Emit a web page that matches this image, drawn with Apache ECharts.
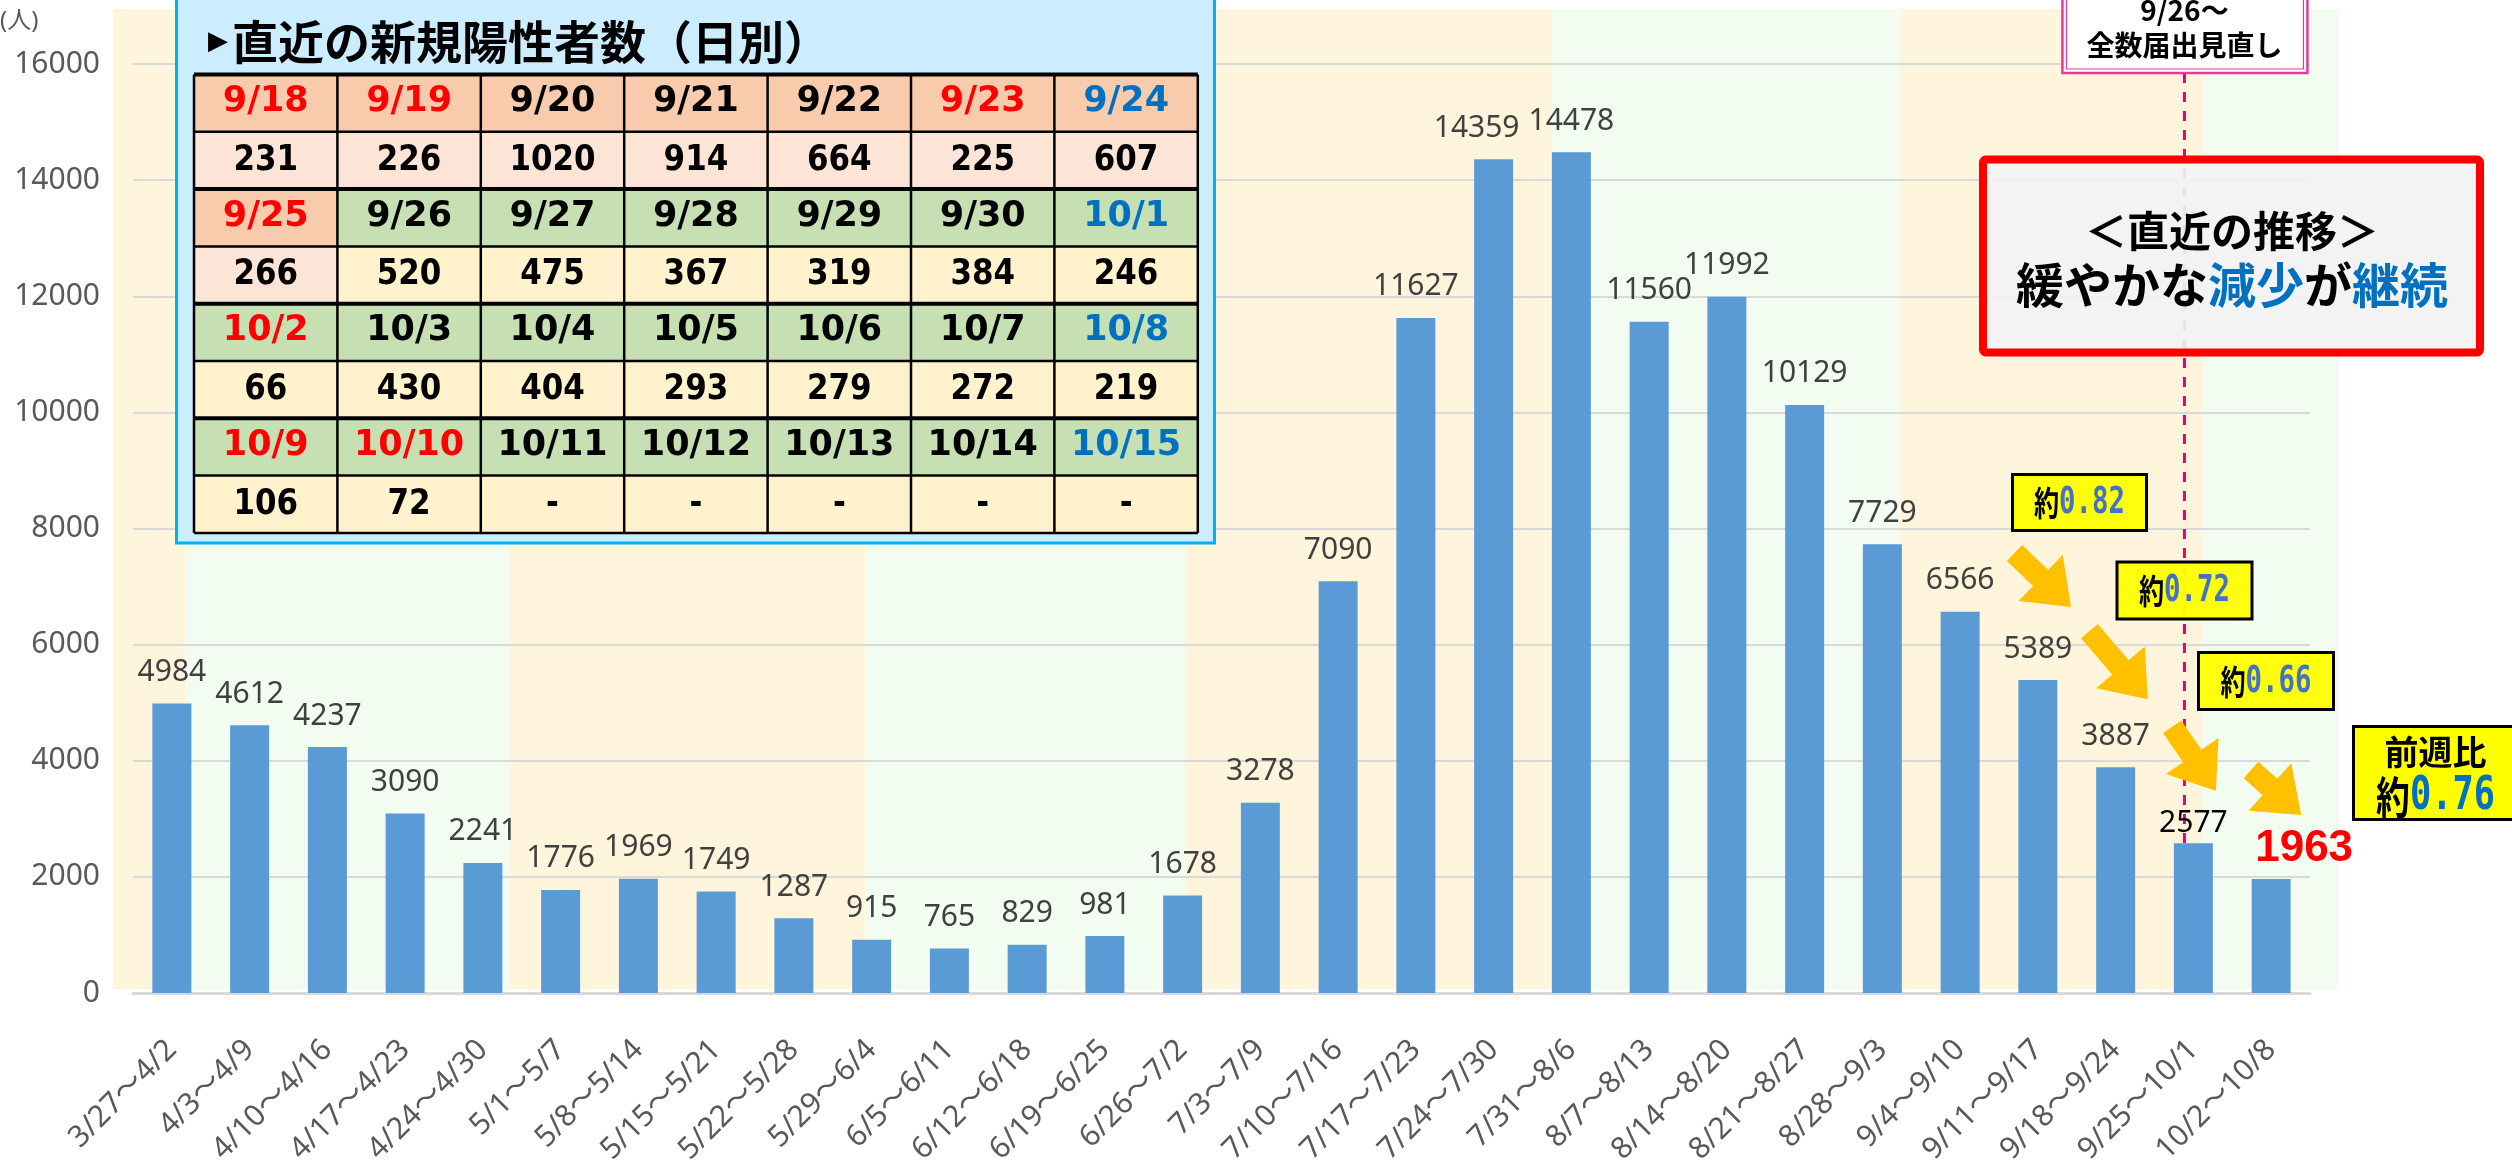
<!DOCTYPE html>
<html>
<head>
<meta charset="utf-8">
<script src="https://cdn.jsdelivr.net/npm/echarts@6/dist/echarts.min.js"></script>
<style>
html,body{margin:0;padding:0;background:#ffffff;}
#c{width:2512px;height:1171px;}
</style>
</head>
<body>
<div id="c"></div>
<script>
// ---------- DATA ----------
const weeks = ['3/27～4/2','4/3～4/9','4/10～4/16','4/17～4/23','4/24～4/30','5/1～5/7','5/8～5/14','5/15～5/21','5/22～5/28','5/29～6/4','6/5～6/11','6/12～6/18','6/19～6/25','6/26～7/2','7/3～7/9','7/10～7/16','7/17～7/23','7/24～7/30','7/31～8/6','8/7～8/13','8/14～8/20','8/21～8/27','8/28～9/3','9/4～9/10','9/11～9/17','9/18～9/24','9/25～10/1','10/2～10/8'];
const weeklyCases = [4984,4612,4237,3090,2241,1776,1969,1749,1287,915,765,829,981,1678,3278,7090,11627,14359,14478,11560,11992,10129,7729,6566,5389,3887,2577,1963];
const yTicks = {min:0, max:16000, interval:2000};

const dailyDates = ['9/18','9/19','9/20','9/21','9/22','9/23','9/24','9/25','9/26','9/27','9/28','9/29','9/30','10/1','10/2','10/3','10/4','10/5','10/6','10/7','10/8','10/9','10/10','10/11','10/12','10/13','10/14','10/15'];
const dailyCases = [231,226,1020,914,664,225,607,266,520,475,367,319,384,246,66,430,404,293,279,272,219,106,72,null,null,null,null,null];
const dailyDateColor = ['r','r','k','k','k','r','b','r','k','k','k','k','k','b','r','k','k','k','k','k','b','r','r','k','k','k','k','b'];
const reviewStartDate = '9/26';

const ratioLabels = ['0.82','0.72','0.66'];
const latestRatio = '0.76';

// month background bands: edges in category units
const monthBandEdges = [-0.76, 0.17, 4.35, 8.92, 13.03, 17.75, 22.23, 26.12, 27.87];
const reviewLinePos = 25.885;

// ---------- CHART ----------
const FONT = "'Noto Sans', 'Noto Sans CJK JP', sans-serif";
const JP = "'Noto Sans CJK JP', sans-serif";
const MONO = "'DejaVu Sans Mono', monospace";
const chart = echarts.init(document.getElementById('c'), null, {renderer:'canvas'});

const lastIdx = weeklyCases.length - 1;
const barData = weeklyCases.map((v, i) => {
  const d = {value: v};
  if (i === lastIdx) {
    d.label = {color:'#FF0000', fontSize:44, fontWeight:'bold', fontFamily:"'Liberation Sans', sans-serif", lineHeight:44, distance:8, offset:[33,0]};
  } else if (i === lastIdx - 1) {
    d.label = {color:'#000000', distance:5};
  } else if (v === 14359) {
    d.label = {offset:[-17,0]};
  }
  return d;
});

const option = {
  animation: false,
  backgroundColor: '#ffffff',
  grid: {left:133, top:64, width:2177, height:929, containLabel:false, outerBoundsMode:'none'},
  xAxis: {
    type:'category', data: weeks,
    axisTick:{show:false},
    axisLine:{show:true, lineStyle:{color:'#D9D9D9', width:3}},
    axisLabel:{rotate:45, interval:0, fontSize:30, color:'#595959', margin:52, fontFamily:FONT}
  },
  yAxis: {
    type:'value', min:yTicks.min, max:yTicks.max, interval:yTicks.interval,
    axisLine:{show:false}, axisTick:{show:false},
    splitLine:{show:true, lineStyle:{color:'#D9D9D9', width:2}},
    axisLabel:{fontSize:30, color:'#595959', margin:33, fontFamily:FONT, formatter: v => String(v)}
  },
  series: [{
    type:'bar', data: barData, barWidth:39, z:2,
    itemStyle:{color:'#5B9BD5'},
    label:{show:true, position:'top', distance:16, fontSize:30, lineHeight:30, color:'#404040', fontFamily:FONT}
  }]
};
chart.setOption(option);

// ---------- ANNOTATIONS ----------
const c0 = chart.convertToPixel({xAxisIndex:0}, 0);
const c1 = chart.convertToPixel({xAxisIndex:0}, 1);
const px = v => c0 + v * (c1 - c0);
const py = v => chart.convertToPixel({yAxisIndex:0}, v);

function txt(x, y, text, font, fill, extra) {
  return Object.assign({type:'text', x:x, y:y, silent:true,
    style:{text:text, font:font, fill:fill, align:'center', verticalAlign:'middle', textAlign:'center', textVerticalAlign:'middle'}}, extra || {});
}
function richTxt(x, y, text, rich, extra, align) {
  const a = align || 'center';
  return Object.assign({type:'text', x:x, y:y, silent:true,
    style:{text:text, rich:rich, align:a, verticalAlign:'middle', textAlign:a, textVerticalAlign:'middle'}}, extra || {});
}
function arrowPts(tx, ty, hx, hy, sw, hw, hl) {
  const dx = hx - tx, dy = hy - ty, L = Math.hypot(dx, dy);
  const ux = dx / L, uy = dy / L, nx = -uy, ny = ux;
  const bx = hx - ux * hl, by = hy - uy * hl;
  return [[tx+nx*sw/2, ty+ny*sw/2],[bx+nx*sw/2, by+ny*sw/2],[bx+nx*hw/2, by+ny*hw/2],[hx,hy],
          [bx-nx*hw/2, by-ny*hw/2],[bx-nx*sw/2, by-ny*sw/2],[tx-nx*sw/2, ty-ny*sw/2]];
}

const g = [];
// month bands
for (let i = 0; i < monthBandEdges.length - 1; i++) {
  const x0 = px(monthBandEdges[i]), x1 = px(monthBandEdges[i+1]);
  g.push({type:'rect', z:-1, silent:true, shape:{x:x0, y:9, width:x1-x0, height:980},
    style:{fill: i % 2 === 0 ? '#FFF5DC' : '#F2FCF0'}});
}

// review dashed line
const lx = px(reviewLinePos);
g.push({type:'line', z:1, silent:true, shape:{x1:lx, y1:73, x2:lx, y2:py(weeklyCases[lastIdx-1])},
  style:{stroke:'#E4007F', lineWidth:3, lineDash:[10,9]}});

// top review box
g.push({type:'rect', z:100, silent:true, shape:{x:lx-122, y:-10, width:245, height:83}, style:{fill:'#ffffff', stroke:'#E6399B', lineWidth:2.5}});
g.push({type:'rect', z:100, silent:true, shape:{x:lx-118, y:-6, width:237, height:75}, style:{fill:'none', stroke:'#E6399B', lineWidth:1.2}});
g.push(txt(lx, 10, reviewStartDate + '～', "bold 28px " + JP, '#000', {z:101}));
g.push(txt(lx, 45, '全数届出見直し', "bold 28px " + JP, '#000', {z:101}));

// red summary box
g.push({type:'rect', z:100, silent:true, shape:{x:1983, y:159.5, width:497, height:193, r:3},
  style:{fill:'rgba(242,242,242,0.92)', stroke:'#FF0000', lineWidth:8}});
g.push(txt(2232, 231, '＜直近の推移＞', "bold 42px " + JP, '#000', {z:101}));
g.push(richTxt(2232, 285, '{a|緩やかな}{b|減少}{a|が}{b|継続}', {
  a:{fill:'#000', color:'#000', fontSize:48, fontWeight:'bold', fontFamily:JP},
  b:{fill:'#0070C0', color:'#0070C0', fontSize:48, fontWeight:'bold', fontFamily:JP}
}, {z:101}));

// arrows
const arrows = [[2014.5,553,2071,607],[2089.4,631.2,2147.8,699.3],[2172.2,726.7,2215.9,790.7],[2251,770,2301.2,815]];
arrows.forEach(a => {
  g.push({type:'polygon', z:90, silent:true, shape:{points:arrowPts(a[0],a[1],a[2],a[3],22,64,42)}, style:{fill:'#FFC000'}});
});

// ratio boxes
const ratioBoxes = [[2012.5,474.5,134,56],[2117,562,135,57],[2198.5,652.5,135,57]];
ratioBoxes.forEach((b, i) => {
  g.push({type:'rect', z:100, silent:true, shape:{x:b[0], y:b[1], width:b[2], height:b[3]}, style:{fill:'rgba(255,255,0,0.95)', stroke:'#000', lineWidth:3}});
  g.push(richTxt(b[0]+b[2]/2, b[1]+b[3]/2 + 1, '{a|約}{b|' + ratioLabels[i] + '}', {
    a:{fill:'#000', color:'#000', fontSize:34, fontWeight:'bold', fontFamily:JP},
    b:{fill:'#4472C4', color:'#4472C4', fontSize:37, fontWeight:'bold', fontFamily:MONO}
  }, {z:101, scaleX:0.74}));
});

// week-over-week box
g.push({type:'rect', z:100, silent:true, shape:{x:2353.5, y:726.5, width:200, height:93}, style:{fill:'#FFFF00', stroke:'#000', lineWidth:3}});
g.push(txt(2435.6, 752, '前週比', "bold 34px " + JP, '#000', {z:101}));
g.push(richTxt(2435.6, 797, '{a|約}{b|' + latestRatio + '}', {
  a:{fill:'#000', color:'#000', fontSize:44, fontWeight:'bold', fontFamily:JP},
  b:{fill:'#0070C0', color:'#0070C0', fontSize:46, fontWeight:'bold', fontFamily:MONO}
}, {z:101, scaleX:0.77}));

// unit label
g.push({type:'text', z:101, silent:true, x:0, y:21, style:{text:'(人)', font:"24px " + FONT, fill:'#595959', align:'left', verticalAlign:'middle', textAlign:'left', textVerticalAlign:'middle'}});

// daily table panel
g.push({type:'rect', z:50, silent:true, shape:{x:176.5, y:-4, width:1038, height:547}, style:{fill:'#CCECFF', stroke:'#00B0F0', lineWidth:3}});
g.push(richTxt(208, 42, '{t|▶}{a|直近の新規陽性者数（日別）}', {
  t:{fill:'#000', color:'#000', fontSize:26, fontFamily:"'DejaVu Sans', sans-serif", padding:[0,4,0,0]},
  a:{fill:'#000', color:'#000', fontSize:46, fontWeight:'bold', fontFamily:JP}
}, {z:51}, 'left'));

const T = {x:194, y:74.5, cw:143.4, rh:57.3, cols:7};
const colorMap = {r:'#FF0000', k:'#000000', b:'#0070C0'};
const cutIdx = dailyDates.indexOf(reviewStartDate);
const groups = Math.ceil(dailyDates.length / T.cols);
for (let gi = 0; gi < groups; gi++) {
  for (let c = 0; c < T.cols; c++) {
    const idx = gi * T.cols + c;
    const pre = idx < cutIdx;
    const x = T.x + c * T.cw, yh = T.y + gi * 2 * T.rh, yv = yh + T.rh;
    g.push({type:'rect', z:51, silent:true, shape:{x:x, y:yh, width:T.cw, height:T.rh}, style:{fill: pre ? '#F8CBAD' : '#C6E0B4'}});
    g.push({type:'rect', z:51, silent:true, shape:{x:x, y:yv, width:T.cw, height:T.rh}, style:{fill: pre ? '#FCE4D6' : '#FFF2CC'}});
    g.push(txt(x + T.cw/2, yh + T.rh/2 - 1, dailyDates[idx], "bold 35px 'DejaVu Sans'", colorMap[dailyDateColor[idx]], {z:53}));
    const val = dailyCases[idx] == null ? '-' : String(dailyCases[idx]);
    g.push(txt(x + T.cw/2, yv + T.rh/2, val, "bold 36px 'DejaVu Sans'", '#000', {z:53, scaleX:0.86}));
  }
}
const rows = groups * 2;
for (let r = 0; r <= rows; r++) {
  const y = T.y + r * T.rh;
  const thick = (r % 2 === 0 && r < rows);
  g.push({type:'line', z:52, silent:true, shape:{x1:T.x, y1:y, x2:T.x + T.cols*T.cw, y2:y}, style:{stroke:'#000', lineWidth: thick ? 4 : 2.5}});
}
for (let c = 0; c <= T.cols; c++) {
  const x = T.x + c * T.cw;
  g.push({type:'line', z:52, silent:true, shape:{x1:x, y1:T.y, x2:x, y2:T.y + rows*T.rh}, style:{stroke:'#000', lineWidth:2.5}});
}

chart.setOption({graphic: g});
</script>
</body>
</html>
